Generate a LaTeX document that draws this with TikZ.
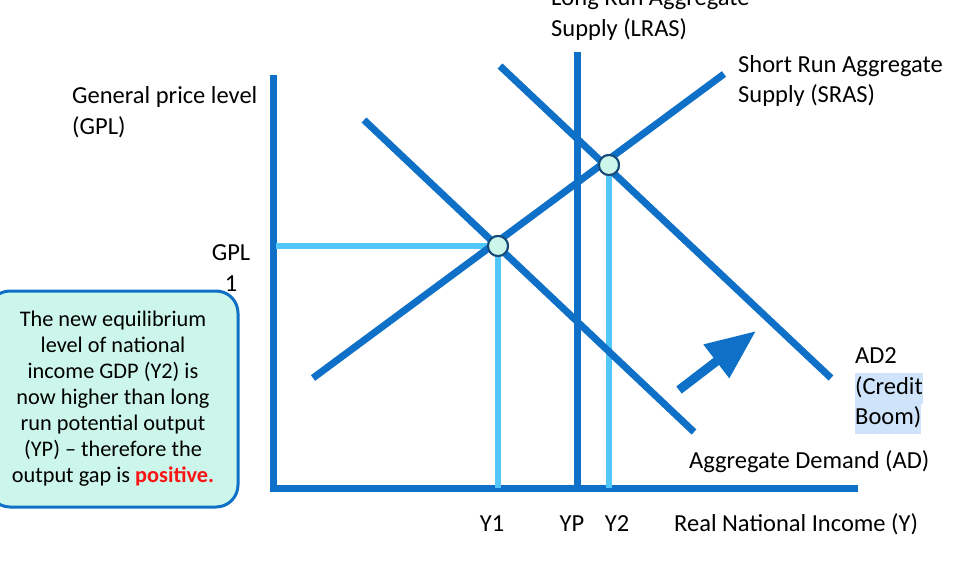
\documentclass[tikz,border=0pt]{standalone}
\usepackage{fontspec}
\setmainfont{Carlito}
\usepackage{xcolor}
\usetikzlibrary{arrows.meta,positioning,calc}
\definecolor{curveblue}{RGB}{14,112,198}
\definecolor{guideblue}{RGB}{82,200,250}
\definecolor{mint}{RGB}{204,246,234}
\definecolor{ringblue}{RGB}{22,72,120}
\definecolor{hiblue}{RGB}{207,228,250}
\definecolor{posred}{RGB}{250,20,20}
\newcommand{\hilite}[1]{{\setlength{\fboxsep}{0pt}\colorbox{hiblue}{\strut #1}}}

\begin{document}
\begin{tikzpicture}[x=1pt,y=-1pt,font=\fontsize{24.5}{30.5}\selectfont,
  curve/.style={curveblue,line width=7pt},
  guide/.style={guideblue,line width=6.5pt},
  eq/.style={circle,draw=ringblue,fill=mint,line width=2pt,minimum size=20pt,inner sep=0pt},
  lab/.style={align=left,inner sep=0pt,anchor=west},
  tick/.style={inner sep=0pt},
  shiftarrow/.style={-{Triangle[length=50pt,width=40pt]},curveblue,line width=9pt}]
\useasboundingbox (0,0) rectangle (961,580);
% axes
\coordinate (top) at (273,75);
\coordinate (origin) at (273,488);
\coordinate (right) at (858,488);
\draw[curve,line join=miter] (top) -- (origin) -- (right);
% curves
\coordinate (lrasT) at (577,52);
\coordinate (lrasB) at (577,488);
\coordinate (srasL) at (313,378);
\coordinate (srasR) at (724,74);
\coordinate (adT) at (364,120);
\coordinate (adB) at (694,432);
\coordinate (adtwoT) at (500,66);
\coordinate (adtwoB) at (831,378);
\coordinate (yone) at (498,488);
\coordinate (ytwo) at (609,488);
\coordinate (gplax) at (276,246);
\node[eq] (eqone) at (498,246) {};
\node[eq] (eqtwo) at (609,165) {};
% guide lines
\draw[guide] (gplax) -- (eqone.west);
\draw[guide] (eqone.south) -- (yone);
\draw[guide] (eqtwo.south) -- (ytwo);
\draw[curve] (lrasT) -- (lrasB);
\draw[curve] (adT) -- (adB);
\draw[curve] (adtwoT) -- (adtwoB);
\draw[curve] (srasL) -- (srasR);
\node[eq] at (eqone) {};
\node[eq] at (eqtwo) {};
% shift arrow
\coordinate (shiftA) at (679,390);
\coordinate (shiftB) at (756,331);
\draw[shiftarrow] (shiftA) -- (shiftB);
% labels
\node[lab] (lraslab) at (551,15) {Long Run Aggregate\\Supply (LRAS)};
\node[lab] (sraslab) at (738,81) {Short Run Aggregate\\Supply (SRAS)};
\node[lab] (gpllab) at (72,112) {General price level\\(GPL)};
\node[tick,align=center] (gplone) at (231,268) {GPL\\1};
\node[lab] (adtwolab) at (855,391) {AD2\\\hilite{(Credit}\\\hilite{Boom)}};
\node[lab] (adlab) at (689,462) {Aggregate Demand (AD)};
\node[tick] (yonelab) at (492,524) {Y1};
\node[tick] (yplab) at (572,524) {YP};
\node[tick] (ytwolab) at (617,524) {Y2};
\node[lab] (xlab) at (674,524) {Real National Income (Y)};
% note box
\node[draw=curveblue,fill=mint,line width=3pt,rounded corners=22pt,
  minimum width=250pt,minimum height=216pt,align=center,
  font=\fontsize{22.3}{26}\selectfont] (note) at (113,399)
  {The new equilibrium\\level of national\\income GDP (Y2) is\\now higher than long\\run potential output\\(YP) -- therefore the\\output gap is \textcolor{posred}{\textbf{positive.}}};
\end{tikzpicture}
\end{document}
